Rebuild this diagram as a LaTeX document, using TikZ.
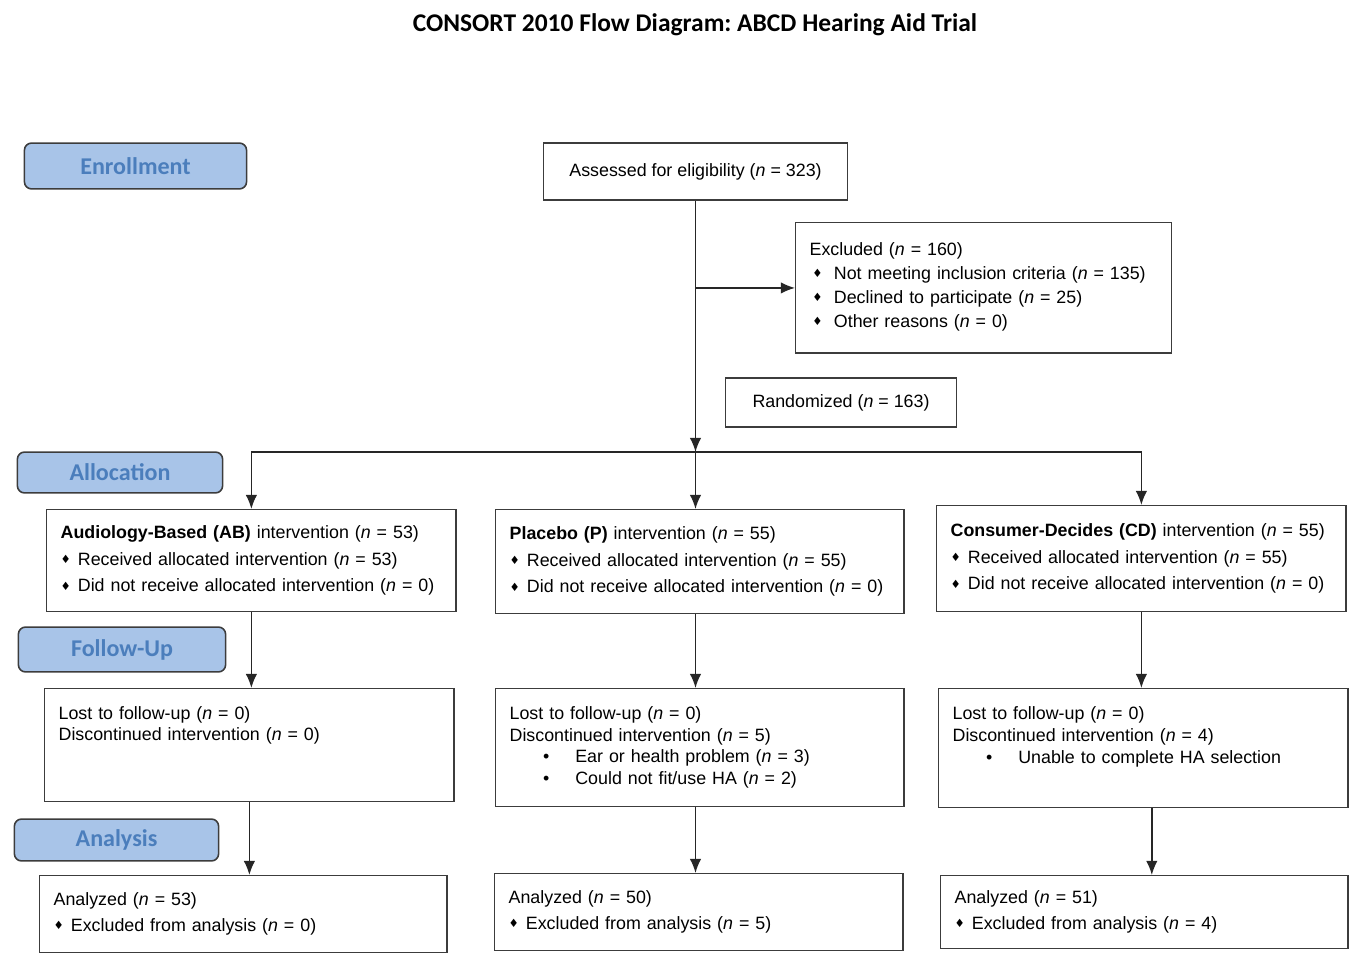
\documentclass[tikz,border=0pt]{standalone}
\usepackage{fontspec}
\setmainfont{Liberation Sans}
\newfontfamily\calibri{Carlito}
\newfontfamily\symb{DejaVu Sans}
\usetikzlibrary{arrows.meta}
\definecolor{phasefill}{RGB}{168,196,232}
\definecolor{phasetext}{RGB}{75,126,188}
\definecolor{boxline}{RGB}{60,60,60}
\newdimen\px \px=0.5669pt
\frenchspacing
\newcommand\nn[1]{(\textit{n} = #1)}
\newcommand\dia{{\symb\fontsize{6.5}{6.5}\selectfont\raisebox{0.3ex}{♦}}\hspace{4pt}}
\newcommand\sub{\hspace*{19pt}\makebox[18.4pt][l]{\textbullet}}

\begin{document}
\begin{tikzpicture}[x=0.02cm, y=-0.02cm,
        >={Latex[length=8pt,width=6.5pt]},
        flow/.style = {->, line width=0.9pt, draw=black!85},
        phase/.style = {draw=boxline, line width=0.9pt, fill=phasefill, rounded corners=4pt,
            text=phasetext, font=\calibri\bfseries\fontsize{13.7}{16}\selectfont},
        flowbox/.style = {draw=boxline, line width=0.8pt, anchor=north west, align=left,
            inner xsep=14\px, font=\fontsize{10.15}{13.8}\selectfont},
        allocbox/.style = {flowbox, font=\fontsize{10.15}{15.3}\selectfont},
        fubox/.style = {flowbox, font=\fontsize{10.15}{12.3}\selectfont},
        anbox/.style = {flowbox, font=\fontsize{10.15}{14.7}\selectfont}]
    \useasboundingbox (0,0) rectangle (1356,962);

    \node[font=\calibri\bfseries\fontsize{14.5}{17}\selectfont] (title) at (695,25)
        {CONSORT 2010 Flow Diagram: ABCD Hearing Aid Trial};

    \node[phase, minimum width=223\px, minimum height=46\px] (enroll) at (135.5,166) {Enrollment};
    \node[phase, minimum width=206\px, minimum height=41\px] (alloc) at (120,472.5) {Allocation};
    \node[phase, minimum width=208\px, minimum height=45\px] (follow) at (122,649.5) {Follow-Up};
    \node[phase, minimum width=205\px, minimum height=42\px] (analysis) at (116.5,840) {Analysis};

    \node[flowbox, anchor=center, align=center, minimum width=305\px, minimum height=57\px]
        (assess) at (695.5,171.5) {Assessed for eligibility \nn{323}};
    \node[flowbox, text width=349\px, minimum height=131\px] (excl) at (795,222) {
        Excluded \nn{160}\\
        \hspace*{1.5pt}\dia\hspace{2.5pt}Not meeting inclusion criteria \nn{135}\\
        \hspace*{1.5pt}\dia\hspace{2.5pt}Declined to participate \nn{25}\\
        \hspace*{1.5pt}\dia\hspace{2.5pt}Other reasons \nn{0}\\[-10.4pt]\mbox{}};
    \node[flowbox, anchor=center, align=center, minimum width=232\px, minimum height=49\px]
        (rand) at (841,402.5) {Randomized \nn{163}};

    \node[allocbox, text width=383\px, minimum height=102\px] (ab) at (46,509) {
        \textbf{Audiology-Based (AB)} intervention \nn{53}\\
        \dia Received allocated intervention \nn{53}\\
        \dia Did not receive allocated intervention \nn{0}};
    \node[allocbox, text width=382\px, minimum height=104\px] (pl) at (495,509) {
        \textbf{Placebo (P)} intervention \nn{55}\\
        \dia Received allocated intervention \nn{55}\\
        \dia Did not receive allocated intervention \nn{0}};
    \node[allocbox, text width=383\px, minimum height=106\px] (cd) at (936,505) {
        \textbf{Consumer-Decides (CD)} intervention \nn{55}\\
        \dia Received allocated intervention \nn{55}\\
        \dia Did not receive allocated intervention \nn{0}};

    \node[fubox, text width=383\px, minimum height=113\px] (fuab) at (44,688) {
        Lost to follow-up \nn{0}\\
        Discontinued intervention \nn{0}\\
        \mbox{}\\
        \mbox{}};
    \node[fubox, text width=382\px, minimum height=118\px] (fupl) at (495,688) {
        Lost to follow-up \nn{0}\\
        Discontinued intervention \nn{5}\\
        \sub Ear or health problem \nn{3}\\
        \sub Could not fit/use HA \nn{2}};
    \node[fubox, text width=383\px, minimum height=119\px] (fucd) at (938,688) {
        Lost to follow-up \nn{0}\\
        Discontinued intervention \nn{4}\\
        \sub Unable to complete HA selection\\
        \mbox{}\\[-10pt]\mbox{}};

    \node[anbox, text width=381\px, minimum height=77\px] (anab) at (39,875) {
        Analyzed \nn{53}\\
        \dia Excluded from analysis \nn{0}};
    \node[anbox, text width=382\px, minimum height=77\px] (anpl) at (494,873) {
        Analyzed \nn{50}\\
        \dia Excluded from analysis \nn{5}};
    \node[anbox, text width=381\px, minimum height=73\px] (ancd) at (940,875) {
        Analyzed \nn{51}\\
        \dia Excluded from analysis \nn{4}};

    \coordinate (split) at (695.5,452);
    \draw[flow] (assess) -- (split);
    \draw[flow] (assess.south |- excl.west) -- (excl.west);
    \draw[flow] (split) -| (ab.north);
    \draw[flow] (split) -| (cd.north);
    \draw[flow] (split) -- (split |- pl.north);

    \draw[flow] (ab.south) -- (ab.south |- fuab.north);
    \draw[flow] (split |- pl.south) -- (split |- fupl.north);
    \draw[flow] (cd.south) -- (cd.south |- fucd.north);

    \draw[flow] (fuab.south) -- (fuab.south |- anab.north);
    \draw[flow] (split |- fupl.south) -- (split |- anpl.north);
    \draw[flow] ([xshift=4.8pt]fucd.south) -- ([xshift=4.8pt]fucd.south |- ancd.north);
\end{tikzpicture}
\end{document}
